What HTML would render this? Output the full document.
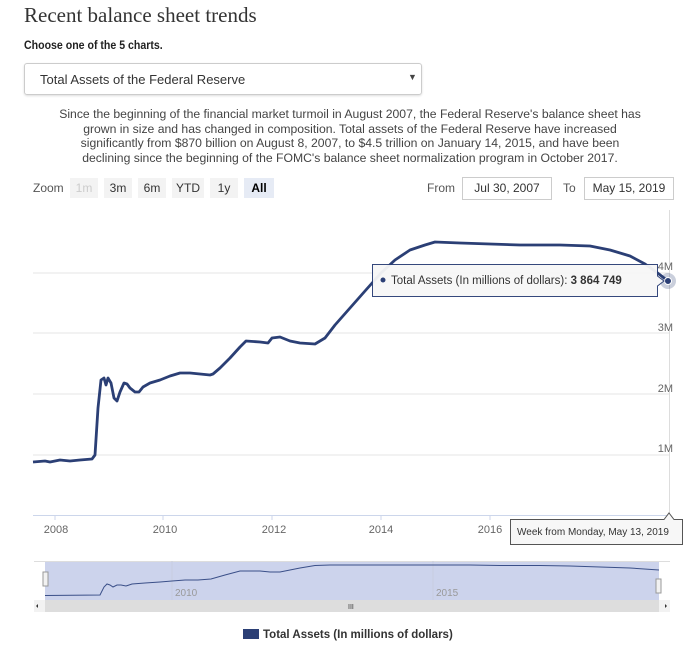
<!DOCTYPE html>
<html><head><style>
body{margin:0;width:700px;height:654px;background:#fff;font-family:"Liberation Sans",sans-serif;position:relative;overflow:hidden}
.a{position:absolute}
</style></head><body>
<div class="a" style="left:24px;top:3px;font-family:'Liberation Serif',serif;font-size:21px;color:#333">Recent balance sheet trends</div>
<div class="a" style="left:24px;top:40px;font-size:11.5px;color:#222;font-weight:bold;transform:scaleX(.92);transform-origin:left">Choose one of the 5 charts.</div>
<div class="a" style="left:24px;top:63px;width:396px;height:30px;border:1px solid #ccc;border-radius:3px;box-shadow:0 1px 2px #ddd"></div>
<div class="a" style="left:40px;top:72px;font-size:13px;color:#333">Total Assets of the Federal Reserve</div>
<div class="a" style="left:408px;top:72px;font-size:9px;color:#444">▼</div>
<div class="a" style="left:350px;top:107px;width:0;font-size:12.2px;line-height:14.5px;color:#444">
<div style="position:absolute;left:-400px;width:800px;text-align:center;white-space:nowrap">Since the beginning of the financial market turmoil in August 2007, the Federal Reserve's balance sheet has<br>grown in size and has changed in composition. Total assets of the Federal Reserve have increased<br>significantly from $870 billion on August 8, 2007, to $4.5 trillion on January 14, 2015, and have been<br>declining since the beginning of the FOMC's balance sheet normalization program in October 2017.</div></div>
<div class="a" style="top:181px;left:33px;font-size:12px;color:#555">Zoom</div>
<div class="a" style="top:178px;left:70px;width:28px;height:20px;background:#f3f3f3;color:#ccc;font-size:12px;text-align:center;line-height:20px">1m</div>
<div class="a" style="top:178px;left:104px;width:28px;height:20px;background:#f3f3f3;color:#333;font-size:12px;text-align:center;line-height:20px">3m</div>
<div class="a" style="top:178px;left:138px;width:28px;height:20px;background:#f3f3f3;color:#333;font-size:12px;text-align:center;line-height:20px">6m</div>
<div class="a" style="top:178px;left:172px;width:32px;height:20px;background:#f3f3f3;color:#333;font-size:12px;text-align:center;line-height:20px">YTD</div>
<div class="a" style="top:178px;left:210px;width:28px;height:20px;background:#f3f3f3;color:#333;font-size:12px;text-align:center;line-height:20px">1y</div>
<div class="a" style="top:178px;left:244px;width:30px;height:20px;background:#e6ebf5;color:#000;font-weight:bold;font-size:12px;text-align:center;line-height:20px">All</div>
<div class="a" style="top:181px;left:427px;font-size:12px;color:#555">From</div>
<div class="a" style="top:177px;left:462px;width:88px;height:21px;border:1px solid #ccc;font-size:12px;color:#333;text-align:center;line-height:21px">Jul 30, 2007</div>
<div class="a" style="top:181px;left:563px;font-size:12px;color:#555">To</div>
<div class="a" style="top:177px;left:584px;width:88px;height:21px;border:1px solid #ccc;font-size:12px;color:#333;text-align:center;line-height:21px">May 15, 2019</div>
<svg class="a" style="left:0;top:0" width="700" height="654" font-family="Liberation Sans,sans-serif">
<g stroke="#e6e6e6"><line x1="33" x2="669" y1="273" y2="273"/><line x1="33" x2="669" y1="333" y2="333"/><line x1="33" x2="669" y1="394" y2="394"/><line x1="33" x2="669" y1="455" y2="455"/></g>
<line x1="33" x2="669" y1="515.5" y2="515.5" stroke="#ccd6eb"/>
<line x1="669.5" x2="669.5" y1="210" y2="515" stroke="#ddd"/>
<g stroke="#ccd6eb"><line x1="55" x2="55" y1="515" y2="520"/><line x1="163" x2="163" y1="515" y2="520"/><line x1="272" x2="272" y1="515" y2="520"/><line x1="381" x2="381" y1="515" y2="520"/><line x1="490" x2="490" y1="515" y2="520"/></g>
<g font-size="11" fill="#666" text-anchor="middle"><text x="56" y="533">2008</text><text x="165" y="533">2010</text><text x="274" y="533">2012</text><text x="381" y="533">2014</text><text x="490" y="533">2016</text></g>
<g font-size="11" fill="#666" text-anchor="end"><text x="673" y="270">4M</text><text x="673" y="331">3M</text><text x="673" y="392">2M</text><text x="673" y="452">1M</text></g>
<polyline fill="none" stroke="#2b3f75" stroke-width="2.8" stroke-linejoin="round" points="33,462 45,461 50,462 60,460 70,461 80,460 92,459 95,455 98,408 101,380 104,378 106,385 108,378 111,383 114,398 117,401 120,392 124,383 127,384 130,388 135,392 139,392 143,387 150,383 160,380 170,376 180,373 190,373 200,374 210,375 213,374 220,368 230,358 240,347 246,341 260,342 268,343 272,338 280,337 290,341 300,343 315,344 325,338 335,325 350,308 365,291 381,273 395,260 410,250 425,245 435,242 460,243 490,244 520,245 560,245 590,246 610,250 630,256 645,264 655,271 668,281"/>
<circle cx="668" cy="281" r="8" fill="#2b3f75" opacity=".25"/><circle cx="668" cy="281" r="3.5" fill="#2b3f75" stroke="#fff"/>
<path d="M372.5,264.5 H657.5 V276 L664,281 L657.5,286 V296.5 H372.5 Z" fill="#f7f7f7" stroke="#2b3f75" opacity=".95"/>
<circle cx="383" cy="280" r="2.5" fill="#2b3f75"/>
<text x="391" y="284" font-size="11.5" fill="#333">Total Assets (In millions of dollars): <tspan font-weight="bold">3 864 749</tspan></text>
<path d="M510.5,519.5 H664 L669,513 L674,519.5 H682.5 V544.5 H510.5 Z" fill="#f7f7f7" stroke="#555"/>
<text x="517" y="535" font-size="10" fill="#333">Week from Monday, May 13, 2019</text>
<rect x="45" y="561" width="614" height="39" fill="#ccd3ec"/>
<line x1="34" x2="670" y1="561.5" y2="561.5" stroke="#ddd"/>
<g stroke="#c8cde0"><line x1="172" x2="172" y1="561" y2="600"/><line x1="433" x2="433" y1="561" y2="600"/></g>
<g font-size="10" fill="#999"><text x="175" y="596">2010</text><text x="436" y="596">2015</text></g>
<polyline fill="none" stroke="#3a4f88" stroke-width="1" points="45,595.5 100,595 104,587 107,584 110,585 113,587 117,585 121,585 126,586 132,584 145,583 160,582 172,581 185,580 198,580 211,579 225,575 240,571 250,571 260,571 270,572 280,572 290,570 300,568 315,565.5 330,565 350,565 380,565 433,565 470,565 500,565.5 540,565.5 570,566 600,567 630,568 659,570"/>
<rect x="43" y="572" width="5" height="14" fill="#f2f2f2" stroke="#999"/>
<rect x="656" y="579" width="5" height="14" fill="#f2f2f2" stroke="#999"/>
<rect x="34" y="600" width="636" height="12" fill="#f2f2f2"/>
<rect x="45" y="600" width="614" height="12" fill="#ddd"/>
<text x="348" y="609" font-size="7" fill="#333">III</text>
<path d="M38,604 L36,606 L38,608 Z" fill="#333"/><path d="M665,604 L667,606 L665,608 Z" fill="#333"/>
<rect x="243" y="629" width="16" height="10" fill="#2b3f75"/>
<text x="263" y="638" font-size="11.5" font-weight="bold" fill="#333">Total Assets (In millions of dollars)</text>
</svg>
</body></html>
